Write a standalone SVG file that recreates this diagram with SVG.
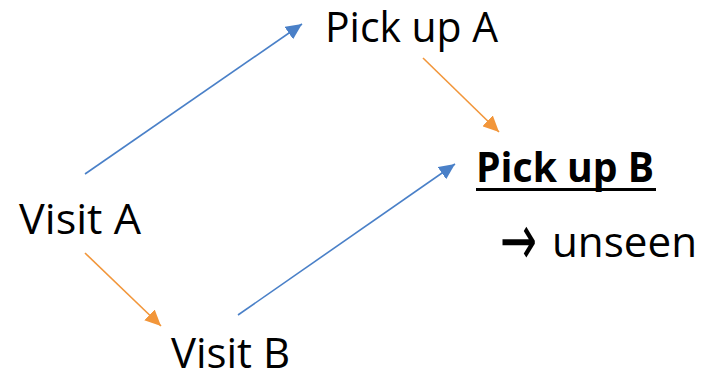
<svg xmlns="http://www.w3.org/2000/svg" width="703" height="375" viewBox="0 0 703 375">
  <style>
    .label { font-family: "Open Sans", "Noto Sans", "Liberation Sans", sans-serif; font-size: 42px; fill: #000; }
    .bold { font-weight: bold; }
    .sym { font-family: "DejaVu Sans", sans-serif; font-size: 72px; fill: #000; }
    .blue { stroke: #4A80C8; stroke-width: 1.6; fill: none; }
    .orange { stroke: #F2963A; stroke-width: 1.6; fill: none; }
  </style>
  <defs>
    <marker id="headBlue" markerUnits="userSpaceOnUse" markerWidth="17" markerHeight="15" refX="16" refY="7.5" orient="auto">
      <path d="M0,0 L16,7.5 L0,15 Z" fill="#4A80C8"/>
    </marker>
    <marker id="headOrange" markerUnits="userSpaceOnUse" markerWidth="17" markerHeight="15" refX="16" refY="7.5" orient="auto">
      <path d="M0,0 L16,7.5 L0,15 Z" fill="#F2963A"/>
    </marker>
  </defs>

  <!-- arrows between the steps -->
  <g id="connectors">
    <line class="blue" x1="85" y1="174" x2="302" y2="24" marker-end="url(#headBlue)"/>
    <line class="blue" x1="238" y1="315" x2="455" y2="164" marker-end="url(#headBlue)"/>
    <line class="orange" x1="423" y1="58" x2="499" y2="132" marker-end="url(#headOrange)"/>
    <line class="orange" x1="85" y1="253" x2="161" y2="326" marker-end="url(#headOrange)"/>
  </g>

  <g id="visit-a">
    <text class="label" x="19" y="234" textLength="122" lengthAdjust="spacingAndGlyphs">Visit A</text>
  </g>
  <g id="visit-b">
    <text class="label" x="171" y="368" textLength="119" lengthAdjust="spacingAndGlyphs">Visit B</text>
  </g>
  <g id="pick-up-a">
    <text class="label" x="325" y="42" textLength="173" lengthAdjust="spacingAndGlyphs">Pick up A</text>
  </g>
  <g id="pick-up-b">
    <text class="label bold" x="476" y="182" textLength="178" lengthAdjust="spacingAndGlyphs">Pick up B</text>
    <rect x="476" y="188" width="180" height="3" fill="#000"/>
  </g>
  <g id="unseen">
    <text class="sym" x="500" y="265" textLength="37" lengthAdjust="spacingAndGlyphs">→</text>
    <text class="label" x="552" y="257" textLength="145" lengthAdjust="spacingAndGlyphs">unseen</text>
  </g>
</svg>
